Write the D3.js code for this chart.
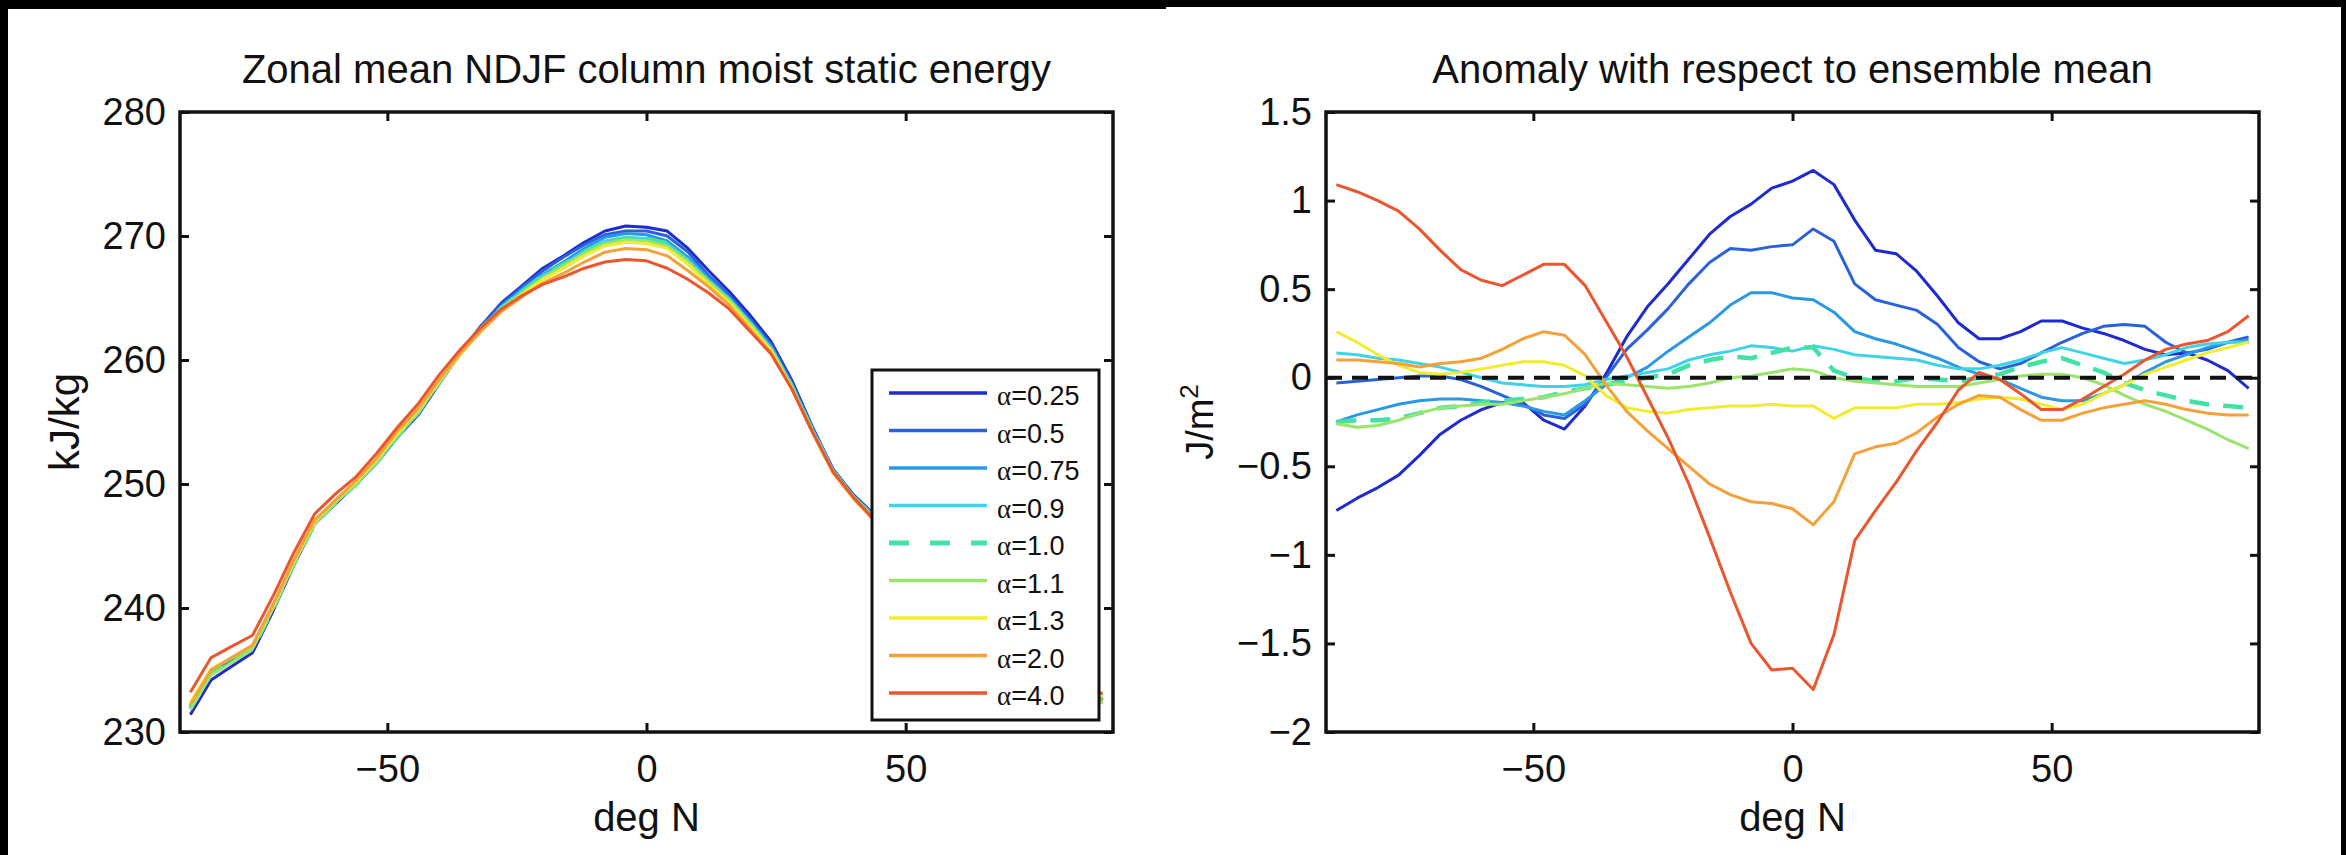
<!DOCTYPE html>
<html>
<head>
<meta charset="utf-8">
<script src="https://cdn.jsdelivr.net/npm/d3@7"></script>
<style>
  body { margin: 0; background: #fff; }
  svg { display: block; }
</style>
</head>
<body>
<div id="chart"></div>
<script>
// latitude grid (deg N)
const lat = [-88, -84, -80, -76, -72, -68, -64, -60, -56, -52, -48, -44, -40, -36, -32, -28, -24, -20, -16, -12, -8, -4, 0,
  4, 8, 12, 16, 20, 24, 28, 32, 36, 40, 44, 48, 52, 56, 60, 64, 68, 72, 76, 80, 84, 88];

const alphas = ["0.25", "0.5", "0.75", "0.9", "1.0", "1.1", "1.3", "2.0", "4.0"];
const colors = ["#1f2bd0", "#2a62dc", "#2a98e4", "#3fd3e6", "#42e2a4", "#9be46c", "#f2ec2e", "#f4a13a", "#ea572e"];

// zonal mean column MSE (kJ/kg)
const mse025 = [231.4, 234.2, 235.3, 236.4, 239.8, 243.5, 246.8, 248.4, 250.0, 251.8, 253.8, 255.6, 258.1, 260.5, 262.7, 264.6, 266.0, 267.4, 268.4, 269.5, 270.4, 270.8, 270.7, 270.4, 269.0, 267.2, 265.5, 263.6, 261.5, 258.4, 254.6, 251.2, 249.1, 247.5, 245.8, 244.3, 242.8, 241.3, 239.8, 238.3, 236.8, 235.6, 234.6, 233.5, 232.6];
const mse05 = [232.1, 234.9, 235.9, 236.9, 240.2, 243.8, 247.0, 248.5, 250.0, 251.8, 253.8, 255.7, 258.2, 260.5, 262.7, 264.5, 265.9, 267.2, 268.3, 269.3, 270.1, 270.4, 270.4, 270.0, 268.7, 266.8, 265.2, 263.3, 261.3, 258.2, 254.5, 251.1, 249.0, 247.3, 245.6, 244.2, 242.8, 241.3, 239.9, 238.4, 236.9, 235.6, 234.7, 233.7, 232.9];
const mse075 = [231.9, 234.7, 235.7, 236.8, 240.1, 243.7, 246.9, 248.5, 250.0, 251.7, 253.8, 255.7, 258.2, 260.5, 262.5, 264.3, 265.7, 266.9, 267.9, 269.0, 269.9, 270.2, 270.1, 269.6, 268.3, 266.6, 265.0, 263.1, 261.1, 258.0, 254.4, 251.0, 248.9, 247.1, 245.4, 243.9, 242.4, 240.9, 239.6, 238.1, 236.8, 235.6, 234.7, 233.7, 232.9];
const mse09 = [232.2, 235.0, 236.0, 237.0, 240.3, 243.9, 247.0, 248.6, 250.1, 251.9, 254.0, 255.9, 258.3, 260.5, 262.5, 264.2, 265.6, 266.8, 267.7, 268.8, 269.6, 269.9, 269.8, 269.4, 268.1, 266.4, 264.9, 263.0, 261.0, 258.0, 254.4, 251.1, 249.0, 247.3, 245.6, 244.2, 242.6, 241.1, 239.7, 238.2, 236.8, 235.7, 234.7, 233.7, 232.9];
const mse10 = [231.9, 234.7, 235.7, 236.7, 240.0, 243.6, 246.8, 248.5, 250.0, 251.8, 253.9, 255.8, 258.2, 260.5, 262.5, 264.2, 265.5, 266.8, 267.7, 268.7, 269.5, 269.8, 269.8, 269.4, 267.9, 266.3, 264.8, 262.9, 260.9, 257.9, 254.3, 251.0, 248.9, 247.3, 245.6, 244.1, 242.6, 241.0, 239.6, 238.0, 236.6, 235.4, 234.4, 233.3, 232.5];
const mse11 = [231.8, 234.6, 235.6, 236.7, 240.0, 243.6, 246.8, 248.5, 250.0, 251.8, 253.9, 255.8, 258.2, 260.5, 262.5, 264.1, 265.4, 266.6, 267.6, 268.6, 269.4, 269.7, 269.6, 269.2, 267.9, 266.3, 264.8, 262.9, 260.8, 257.8, 254.2, 251.0, 248.9, 247.2, 245.5, 244.0, 242.5, 241.0, 239.5, 238.0, 236.5, 235.3, 234.2, 233.2, 232.3];
const mse13 = [232.4, 235.1, 236.0, 237.0, 240.2, 243.8, 247.0, 248.7, 250.2, 252.0, 254.1, 256.0, 258.3, 260.4, 262.3, 264.0, 265.3, 266.5, 267.4, 268.4, 269.2, 269.5, 269.4, 269.0, 267.7, 266.1, 264.6, 262.7, 260.8, 257.8, 254.2, 250.9, 248.8, 247.1, 245.4, 243.8, 242.4, 240.9, 239.6, 238.1, 236.8, 235.6, 234.6, 233.7, 232.9];
const mse20 = [232.2, 235.0, 236.0, 237.0, 240.3, 243.9, 247.1, 248.7, 250.3, 252.1, 254.3, 256.1, 258.4, 260.5, 262.3, 263.9, 265.1, 266.2, 267.0, 267.9, 268.7, 269.0, 268.9, 268.4, 267.2, 265.9, 264.4, 262.5, 260.6, 257.7, 254.2, 250.9, 248.8, 247.0, 245.3, 243.8, 242.3, 240.8, 239.5, 238.0, 236.6, 235.3, 234.3, 233.3, 232.5];
const mse40 = [233.2, 236.0, 236.9, 237.8, 241.0, 244.5, 247.6, 249.2, 250.6, 252.5, 254.6, 256.5, 258.8, 260.8, 262.6, 264.1, 265.2, 266.1, 266.7, 267.4, 267.9, 268.1, 268.0, 267.4, 266.5, 265.4, 264.1, 262.3, 260.5, 257.7, 254.2, 251.0, 248.9, 247.1, 245.3, 243.8, 242.4, 241.0, 239.6, 238.2, 236.9, 235.7, 234.7, 233.8, 233.1];

// anomaly with respect to ensemble mean
const anom025 = [-0.75, -0.68, -0.62, -0.55, -0.44, -0.32, -0.24, -0.18, -0.14, -0.14, -0.24, -0.29, -0.16, 0.02, 0.23, 0.40, 0.53, 0.67, 0.81, 0.91, 0.98, 1.07, 1.11, 1.17, 1.09, 0.89, 0.72, 0.70, 0.60, 0.46, 0.31, 0.22, 0.22, 0.26, 0.32, 0.32, 0.28, 0.25, 0.21, 0.16, 0.13, 0.14, 0.10, 0.04, -0.06];
const anom05 = [-0.03, -0.02, -0.01, 0.00, 0.01, 0.01, -0.01, -0.05, -0.10, -0.15, -0.21, -0.23, -0.15, 0.00, 0.16, 0.27, 0.39, 0.53, 0.65, 0.73, 0.72, 0.74, 0.75, 0.84, 0.77, 0.53, 0.44, 0.41, 0.38, 0.30, 0.17, 0.09, 0.05, 0.08, 0.14, 0.20, 0.25, 0.29, 0.30, 0.29, 0.20, 0.14, 0.16, 0.20, 0.23];
const anom075 = [-0.25, -0.21, -0.18, -0.15, -0.13, -0.12, -0.12, -0.13, -0.14, -0.16, -0.19, -0.21, -0.13, -0.04, 0.00, 0.06, 0.15, 0.23, 0.31, 0.41, 0.48, 0.48, 0.45, 0.44, 0.37, 0.26, 0.22, 0.19, 0.15, 0.11, 0.06, 0.02, -0.01, -0.06, -0.11, -0.13, -0.13, -0.09, -0.04, 0.03, 0.09, 0.13, 0.17, 0.20, 0.21];
const anom09 = [0.14, 0.13, 0.11, 0.10, 0.08, 0.06, 0.03, 0.00, -0.03, -0.04, -0.05, -0.05, -0.04, -0.01, 0.01, 0.03, 0.05, 0.10, 0.13, 0.15, 0.18, 0.17, 0.15, 0.18, 0.16, 0.13, 0.12, 0.11, 0.10, 0.07, 0.05, 0.05, 0.07, 0.10, 0.14, 0.17, 0.14, 0.11, 0.08, 0.10, 0.13, 0.17, 0.19, 0.20, 0.20];
const anom10 = [-0.25, -0.24, -0.24, -0.23, -0.20, -0.17, -0.16, -0.14, -0.13, -0.12, -0.11, -0.08, -0.06, -0.04, -0.02, 0.00, 0.02, 0.07, 0.10, 0.12, 0.11, 0.14, 0.17, 0.17, 0.04, 0.00, -0.02, -0.02, 0.00, -0.01, -0.02, 0.00, 0.02, 0.06, 0.09, 0.11, 0.07, 0.03, -0.03, -0.07, -0.10, -0.13, -0.15, -0.16, -0.17];
const anom11 = [-0.26, -0.28, -0.27, -0.24, -0.20, -0.17, -0.16, -0.15, -0.15, -0.13, -0.11, -0.09, -0.06, -0.03, -0.04, -0.05, -0.06, -0.05, -0.03, 0.00, 0.01, 0.03, 0.05, 0.04, 0.00, -0.02, -0.03, -0.04, -0.05, -0.05, -0.05, -0.03, -0.01, 0.01, 0.02, 0.02, 0.00, -0.04, -0.10, -0.15, -0.19, -0.24, -0.29, -0.35, -0.40];
const anom13 = [0.26, 0.20, 0.13, 0.07, 0.03, 0.02, 0.03, 0.05, 0.07, 0.09, 0.09, 0.07, 0.01, -0.10, -0.17, -0.19, -0.20, -0.18, -0.17, -0.16, -0.16, -0.15, -0.16, -0.16, -0.23, -0.17, -0.17, -0.17, -0.15, -0.15, -0.14, -0.12, -0.11, -0.12, -0.15, -0.18, -0.15, -0.09, -0.04, 0.02, 0.06, 0.10, 0.14, 0.17, 0.20];
const anom20 = [0.10, 0.10, 0.09, 0.08, 0.06, 0.08, 0.09, 0.11, 0.16, 0.22, 0.26, 0.24, 0.13, -0.04, -0.19, -0.30, -0.40, -0.50, -0.60, -0.66, -0.70, -0.71, -0.74, -0.83, -0.70, -0.43, -0.39, -0.37, -0.31, -0.22, -0.15, -0.10, -0.11, -0.18, -0.24, -0.24, -0.20, -0.17, -0.15, -0.13, -0.15, -0.18, -0.20, -0.21, -0.21];
const anom40 = [1.09, 1.05, 1.00, 0.94, 0.84, 0.72, 0.61, 0.55, 0.52, 0.58, 0.64, 0.64, 0.52, 0.32, 0.12, -0.11, -0.34, -0.60, -0.90, -1.21, -1.50, -1.65, -1.64, -1.76, -1.45, -0.92, -0.75, -0.59, -0.41, -0.25, -0.07, 0.03, -0.01, -0.09, -0.18, -0.18, -0.12, -0.05, 0.02, 0.10, 0.16, 0.19, 0.21, 0.26, 0.35];

const xTicks = [-50, 0, 50];
const mseTicks = [230, 240, 250, 260, 270, 280];
const anomTicks = [-2, -1.5, -1, -0.5, 0, 0.5, 1, 1.5];

const W = 2346, H = 855;
const FONT = "'Liberation Sans', Arial, Helvetica, sans-serif";
const fmt = d3.format("~g");

const svg = d3.select("#chart").append("svg")
  .attr("width", W)
  .attr("height", H);

svg.append("rect").attr("width", W).attr("height", H).attr("fill", "#fff");

function drawPanel(opt) {
  const x = d3.scaleLinear().domain([-90, 90]).range([opt.left, opt.right]);
  const y = d3.scaleLinear().domain(opt.yDomain).range([opt.bottom, opt.top]);
  const g = svg.append("g");

  g.append("clipPath").attr("id", opt.id)
    .append("rect")
    .attr("x", opt.left).attr("y", opt.top)
    .attr("width", opt.right - opt.left).attr("height", opt.bottom - opt.top);

  const line = d3.line()
    .x((d, i) => x(lat[i]))
    .y(d => y(d));

  opt.series.forEach((s, i) => {
    g.append("path")
      .datum(s)
      .attr("clip-path", `url(#${opt.id})`)
      .attr("fill", "none")
      .attr("stroke", colors[i])
      .attr("stroke-width", alphas[i] === "1.0" ? 4.5 : 3)
      .attr("stroke-dasharray", alphas[i] === "1.0" ? "20,14" : null)
      .attr("stroke-linejoin", "round")
      .attr("d", line);
  });

  // axes, ticks pointing inward on all four sides
  const axes = [
    g.append("g").attr("transform", `translate(0,${opt.bottom})`)
      .call(d3.axisBottom(x).tickValues(xTicks).tickSize(-9).tickPadding(23).tickFormat(fmt)),
    g.append("g").attr("transform", `translate(0,${opt.top})`)
      .call(d3.axisTop(x).tickValues(xTicks).tickSize(-9).tickFormat("")),
    g.append("g").attr("transform", `translate(${opt.left},0)`)
      .call(d3.axisLeft(y).tickValues(opt.yTicks).tickSize(-9).tickPadding(14).tickFormat(fmt)),
    g.append("g").attr("transform", `translate(${opt.right},0)`)
      .call(d3.axisRight(y).tickValues(opt.yTicks).tickSize(-9).tickFormat(""))
  ];
  axes.forEach(a => {
    a.select(".domain").remove();
    a.selectAll(".tick line").attr("stroke", "#111").attr("stroke-width", 3);
    a.selectAll(".tick text")
      .style("font-family", FONT)
      .style("font-size", "38px")
      .attr("fill", "#111");
  });

  g.append("rect")
    .attr("x", opt.left).attr("y", opt.top)
    .attr("width", opt.right - opt.left).attr("height", opt.bottom - opt.top)
    .attr("fill", "none").attr("stroke", "#111").attr("stroke-width", 3.5);

  const cx = (opt.left + opt.right) / 2;
  g.append("text")
    .attr("x", cx).attr("y", 83)
    .attr("text-anchor", "middle")
    .style("font-family", FONT).style("font-size", "40px").attr("fill", "#111")
    .text(opt.title);

  g.append("text")
    .attr("x", cx).attr("y", 831)
    .attr("text-anchor", "middle")
    .style("font-family", FONT).style("font-size", "40px").attr("fill", "#111")
    .text("deg N");

  return { g, x, y };
}

// left panel
const left = drawPanel({
  id: "clipL", left: 180, right: 1113, top: 112, bottom: 732,
  yDomain: [230, 280], yTicks: mseTicks,
  series: [mse025, mse05, mse075, mse09, mse10, mse11, mse13, mse20, mse40],
  title: "Zonal mean NDJF column moist static energy"
});

left.g.append("text")
  .attr("transform", "translate(79,422) rotate(-90)")
  .attr("text-anchor", "middle")
  .style("font-family", FONT).style("font-size", "42px").attr("fill", "#111")
  .text("kJ/kg");

// legend
const leg = left.g.append("g");
leg.append("rect")
  .attr("x", 872).attr("y", 370).attr("width", 227).attr("height", 350)
  .attr("fill", "#fff").attr("stroke", "#111").attr("stroke-width", 3);

alphas.forEach((a, i) => {
  const yy = 393 + i * 37.5;
  leg.append("line")
    .attr("x1", 889).attr("x2", 987).attr("y1", yy).attr("y2", yy)
    .attr("stroke", colors[i])
    .attr("stroke-width", a === "1.0" ? 5 : 3.5)
    .attr("stroke-dasharray", a === "1.0" ? "20,21" : null);
  const t = leg.append("text")
    .attr("x", 997).attr("y", yy + 12)
    .style("font-family", FONT).style("font-size", "27px").attr("fill", "#111");
  t.append("tspan").style("font-family", "'Liberation Serif', 'DejaVu Serif', serif").text("α");
  t.append("tspan").text("=" + a);
});

// right panel
const right = drawPanel({
  id: "clipR", left: 1326, right: 2259, top: 112, bottom: 732,
  yDomain: [-2, 1.5], yTicks: anomTicks,
  series: [anom025, anom05, anom075, anom09, anom10, anom11, anom13, anom20, anom40],
  title: "Anomaly with respect to ensemble mean"
});

right.g.append("line")
  .attr("x1", right.x(-90)).attr("x2", right.x(90))
  .attr("y1", right.y(0)).attr("y2", right.y(0))
  .attr("stroke", "#111").attr("stroke-width", 4)
  .attr("stroke-dasharray", "16,10");

const yl = right.g.append("text")
  .attr("transform", "translate(1213,422) rotate(-90)")
  .attr("text-anchor", "middle")
  .style("font-family", FONT).style("font-size", "38px").attr("fill", "#111");
yl.append("tspan").text("J/m");
yl.append("tspan").attr("dy", -15).style("font-size", "26px").text("2");

// black frame around the picture
svg.append("rect").attr("x", 0).attr("y", 0).attr("width", 1166).attr("height", 9).attr("fill", "#000");
svg.append("rect").attr("x", 1166).attr("y", 0).attr("width", 1180).attr("height", 7).attr("fill", "#000");
svg.append("rect").attr("x", 0).attr("y", 0).attr("width", 8).attr("height", H).attr("fill", "#000");
svg.append("rect").attr("x", 2341).attr("y", 0).attr("width", 5).attr("height", H).attr("fill", "#000");
</script>
</body>
</html>
